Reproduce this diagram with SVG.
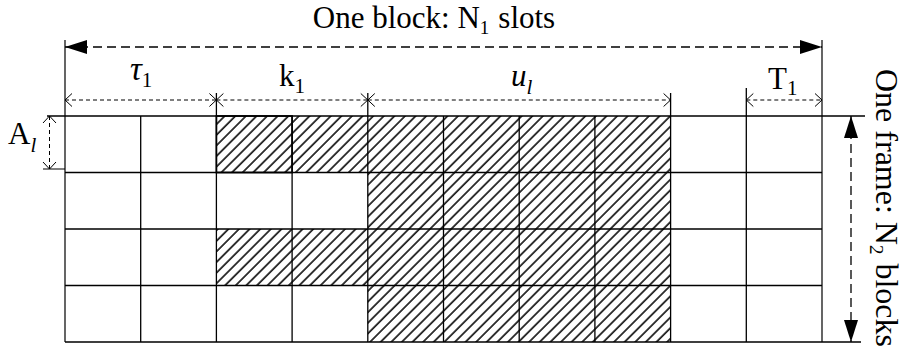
<svg xmlns="http://www.w3.org/2000/svg" width="904" height="353" viewBox="0 0 904 353">
<style>
  text { font-family: "Liberation Serif", "Times New Roman", serif; fill: #000; }
  .grid { stroke: #000; stroke-width: 1.3; fill: none; }
  .ext { stroke: #000; stroke-width: 1.2; fill: none; }
  .dimbig { stroke: #000; stroke-width: 1.3; stroke-dasharray: 9 5; fill: none; }
  .dim { stroke: #000; stroke-width: 1; stroke-dasharray: 4 3; fill: none; }
  .hatch { fill: url(#hatch); stroke: none; }
</style>
<defs>
  <pattern id="hatch" patternUnits="userSpaceOnUse" width="7.5" height="7.5" patternTransform="rotate(45)">
    <rect width="7.5" height="7.5" fill="#fff"/>
    <line x1="1" y1="0" x2="1" y2="7.5" stroke="#222" stroke-width="1.8"/>
  </pattern>
  <marker id="solid" viewBox="0 0 22 14" refX="22" refY="7" markerWidth="22" markerHeight="14" markerUnits="userSpaceOnUse" orient="auto-start-reverse">
    <path d="M0,0 L22,7 L0,14 z" fill="#000"/>
  </marker>
  <marker id="open" viewBox="-1 -1 10 15" refX="7" refY="6.5" markerWidth="10" markerHeight="15" markerUnits="userSpaceOnUse" orient="auto-start-reverse" overflow="visible">
    <path d="M0,0 L7,6.5 L0,13" fill="none" stroke="#000" stroke-width="1"/>
  </marker>
</defs>
<rect width="904" height="353" fill="#fff"/>

<g id="hatched-slots">
  <rect class="hatch" x="216.4" y="116" width="454.2" height="56.5"/>
  <rect class="hatch" x="367.8" y="172.5" width="302.8" height="56.5"/>
  <rect class="hatch" x="216.4" y="229" width="454.2" height="56.5"/>
  <rect class="hatch" x="367.8" y="285.5" width="302.8" height="56.5"/>
</g>

<g id="grid">
  <path class="grid" d="M47,116 H865 M65,172.5 H822 M65,229 H822 M65,285.5 H822 M65,342 H861"/>
  <path class="grid" d="M140.7,116 V342 M216.4,93 V342 M292.1,116 V342 M367.8,93 V342 M443.5,116 V342 M519.2,116 V342 M594.9,116 V342 M670.6,93 V342 M746.3,88 V342"/>
  <path class="ext" d="M65,40 V342 M822,40 V342 M43,169 H65"/>
  <rect x="216.4" y="116" width="75.7" height="56.5" fill="none" stroke="#000" stroke-width="1.7"/>
</g>

<g id="connectors">
  <line class="dimbig" x1="65" y1="47" x2="822" y2="47" marker-start="url(#solid)" marker-end="url(#solid)"/>
  <line class="dimbig" x1="851" y1="116" x2="851" y2="342" marker-start="url(#solid)" marker-end="url(#solid)"/>
  <line class="dim" x1="65" y1="100" x2="216.4" y2="100" marker-start="url(#open)" marker-end="url(#open)"/>
  <line class="dim" x1="216.4" y1="100" x2="367.8" y2="100" marker-start="url(#open)" marker-end="url(#open)"/>
  <line class="dim" x1="367.8" y1="100" x2="670.6" y2="100" marker-start="url(#open)" marker-end="url(#open)"/>
  <line class="dim" x1="746.3" y1="100" x2="822" y2="100" marker-start="url(#open)" marker-end="url(#open)"/>
  <line class="dim" x1="49.5" y1="116" x2="49.5" y2="169" marker-start="url(#open)" marker-end="url(#open)"/>
</g>

<g id="labels">
  <text x="434" y="28" text-anchor="middle" font-size="31">One block: N<tspan font-size="19" dy="6">1</tspan><tspan dx="9" dy="-6">slots</tspan></text>
  <text x="130" y="80" font-size="31"><tspan font-style="italic" font-size="33">τ</tspan><tspan font-size="21" dy="7">1</tspan></text>
  <text x="279" y="86" font-size="31">k<tspan font-size="21" dy="7">1</tspan></text>
  <text x="511" y="86" font-size="31" font-style="italic">u<tspan font-size="21" dy="8">l</tspan></text>
  <text x="768" y="89" font-size="31">T<tspan font-size="21" dy="6">1</tspan></text>
  <text x="8" y="144" font-size="31">A<tspan font-size="21" font-style="italic" dy="8">l</tspan></text>
  <text transform="translate(876,69) rotate(90)" font-size="32">One frame: N<tspan font-size="19" dy="6">2</tspan><tspan dx="9" dy="-6">blocks</tspan></text>
</g>
</svg>
